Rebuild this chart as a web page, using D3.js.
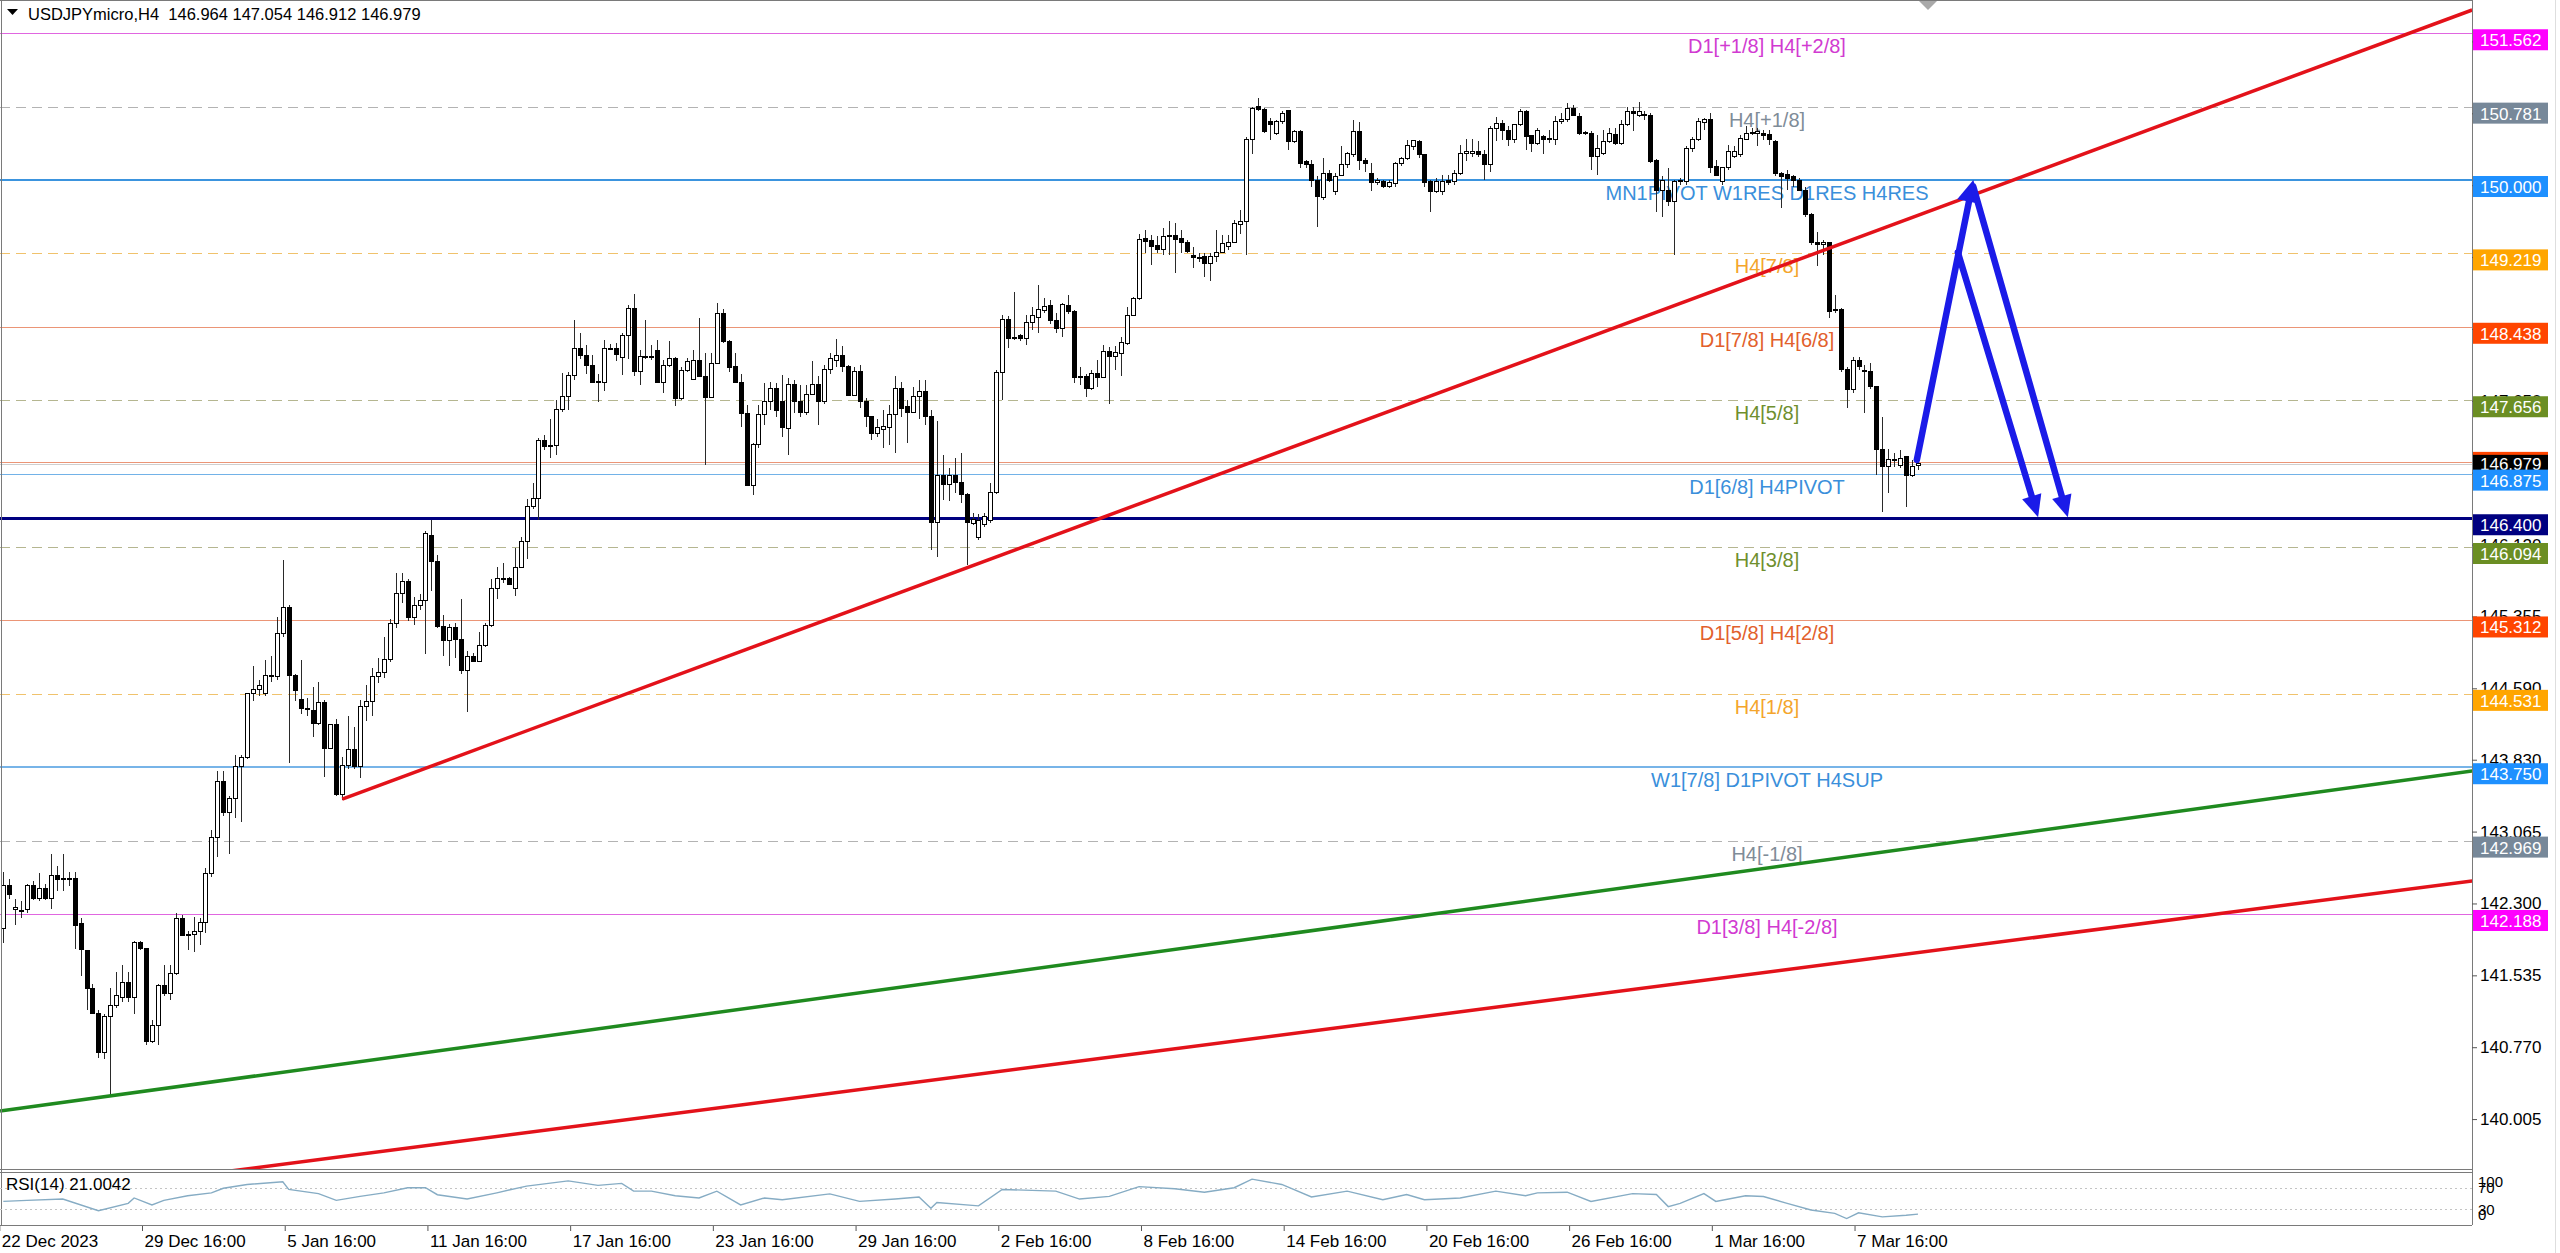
<!DOCTYPE html>
<html><head><meta charset="utf-8">
<script src="https://cdn.jsdelivr.net/npm/d3@7"></script>
<style>
html,body{margin:0;padding:0;background:#fff;}
svg{display:block;font-family:"Liberation Sans",Arial,sans-serif;}
</style></head><body>
<svg id="chart" width="2560" height="1253"></svg>
<script>
// ---------------- DATA ----------------
const symbolTitle = "USDJPYmicro,H4";
const lastBarOHLC = ["146.964", "147.054", "146.912", "146.979"];

// H4 candles [open, high, low, close]
// 22 Dec 2023 -> 12 Jan
const ohlcPart1 = [
[142.03,142.64,141.88,142.49],[142.49,142.56,142.35,142.39],[142.24,142.35,142.07,142.26],[142.22,142.33,142.14,142.23],
[142.24,142.51,142.20,142.49],[142.49,142.54,142.34,142.35],[142.35,142.62,142.33,142.46],[142.46,142.51,142.34,142.35],
[142.35,142.83,142.24,142.60],[142.60,142.70,142.43,142.56],[142.57,142.83,142.43,142.56],[142.56,142.64,142.49,142.57],
[142.57,142.64,141.82,142.07],[142.09,142.14,141.53,141.81],[141.80,141.80,141.17,141.39],[141.39,141.44,141.12,141.13],
[141.13,141.17,140.66,140.71],[140.71,141.12,140.64,141.10],[141.10,141.40,140.26,141.21],[141.21,141.57,141.19,141.32],
[141.30,141.65,141.25,141.46],[141.46,141.57,141.25,141.30],[141.30,141.90,141.12,141.88],[141.88,141.90,141.80,141.82],
[141.82,141.82,140.79,140.83],[140.83,141.06,140.81,141.00],[141.00,141.44,140.79,141.43],[141.43,141.65,141.32,141.34],
[141.34,141.65,141.27,141.55],[141.55,142.20,141.54,142.14],[142.14,142.18,141.95,141.96],[141.96,142.01,141.80,141.97],
[141.97,142.16,141.78,142.00],[142.00,142.14,141.86,142.10],[142.10,142.68,141.99,142.62],[142.62,143.08,142.58,143.00],
[143.00,143.71,142.79,143.60],[143.60,143.71,143.23,143.27],[143.27,143.44,142.83,143.42],[143.42,143.88,143.21,143.76],
[143.76,143.88,143.17,143.85],[143.85,144.53,143.84,144.53],[144.53,144.83,144.45,144.58],[144.58,144.68,144.51,144.62],
[144.53,144.89,144.51,144.73],[144.73,144.93,144.66,144.72],[144.72,145.35,144.68,145.17],[145.17,145.96,145.14,145.45],
[145.45,145.48,143.80,144.73],[144.73,144.74,144.45,144.57],[144.47,144.89,144.32,144.37],[144.36,144.49,144.30,144.37],
[144.35,144.60,144.07,144.22],[144.22,144.66,144.20,144.44],[144.44,144.47,143.65,143.95],[143.95,144.20,143.94,144.20],
[144.20,144.26,143.44,143.46],[143.46,143.86,143.40,143.77],[143.77,144.29,143.73,143.94],[143.94,144.18,143.73,143.76],
[143.76,144.47,143.63,144.40],[144.40,144.62,144.24,144.45],[144.45,144.81,144.30,144.72],[144.72,144.91,144.65,144.76],
[144.76,145.14,144.70,144.90],[144.90,145.33,144.87,145.28],[145.28,145.82,145.23,145.60],[145.60,145.82,145.50,145.73],
[145.73,145.75,145.31,145.34],[145.34,145.56,145.26,145.47],[145.47,145.59,145.42,145.52],[145.52,146.26,144.95,146.24],
[146.22,146.38,145.63,145.94],[145.94,146.01,145.23,145.25],[145.25,145.37,144.93,145.10],[145.10,145.27,144.83,145.24],
[145.24,145.29,144.91,145.11],[145.11,145.54,144.74,144.78],[144.78,144.99,144.34,144.93],[144.93,144.97,144.87,144.88],
[144.88,145.19,144.87,145.05],[145.05,145.28,145.03,145.26],[145.26,145.75,145.24,145.65],[145.65,145.88,145.54,145.76]
];
// 12 Jan -> 19 Jan
const ohlcPart2 = [
[145.76,145.92,145.71,145.76],[145.76,145.77,145.69,145.70],[145.65,146.08,145.57,145.88],[145.88,146.20,145.87,146.15],
[146.15,146.61,145.97,146.52],[146.52,146.77,146.50,146.61],[146.61,147.25,146.38,147.23],[147.23,147.29,147.13,147.16],
[147.16,147.46,147.04,147.17],[147.17,147.66,147.07,147.56],[147.56,147.95,147.53,147.70],[147.70,147.96,147.55,147.92],
[147.92,148.51,147.87,148.21],[148.21,148.37,148.10,148.13],[148.13,148.24,147.94,148.03],[148.03,148.14,147.84,147.85],
[147.86,147.94,147.64,147.84],[147.84,148.30,147.75,148.21],[148.21,148.25,148.19,148.21],[148.21,148.26,148.07,148.14],
[148.11,148.37,147.92,148.34],[148.34,148.67,148.10,148.63],[148.63,148.79,147.91,147.96],[147.96,148.19,147.82,148.12],
[148.12,148.51,148.10,148.12],[148.12,148.24,148.08,148.11],[148.19,148.30,147.84,147.84],[147.84,148.08,147.73,148.03],
[148.03,148.29,148.01,148.10],[148.10,148.12,147.60,147.67],[147.67,148.01,147.66,147.97],[147.97,148.11,147.96,148.07],
[147.88,148.19,147.88,148.08],[148.08,148.53,147.90,147.91]
];
// 22 Jan -> 14 Feb
const ohlcPart3 = [
[147.91,148.16,146.97,147.69],[147.69,148.16,147.68,148.05],[148.05,148.69,148.04,148.58],[148.58,148.63,148.26,148.28],
[148.28,148.30,147.96,148.00],[148.01,148.16,147.85,147.85],[147.85,147.94,147.37,147.52],[147.52,147.61,146.74,146.75],
[146.75,147.20,146.65,147.18],[147.18,147.61,147.15,147.50],[147.50,147.84,147.39,147.64],[147.64,147.85,147.55,147.78],
[147.78,147.84,147.48,147.55],[147.64,147.92,147.27,147.37],[147.36,147.89,147.07,147.82],[147.82,147.87,147.52,147.64],
[147.64,147.82,147.48,147.53],[147.53,147.82,147.50,147.72],[147.72,148.07,147.71,147.82],[147.82,147.91,147.39,147.64],
[147.64,148.03,147.62,147.98],[147.98,148.16,147.94,148.10],[148.08,148.31,148.01,148.13],[148.13,148.23,147.96,148.02],
[148.02,148.03,147.70,147.71],[147.71,148.01,147.70,147.96],[147.96,148.03,147.57,147.64],[147.64,147.68,147.37,147.48],
[147.48,147.48,147.23,147.30],[147.30,147.46,147.27,147.37],[147.34,147.55,147.15,147.38],[147.37,147.61,147.18,147.50],
[147.50,147.91,147.09,147.78],[147.78,147.85,147.48,147.57],[147.59,147.66,147.20,147.53],[147.53,147.80,147.52,147.70],
[147.70,147.87,147.46,147.75],[147.75,147.87,147.39,147.48],[147.48,147.55,146.06,146.35],[146.35,147.43,145.99,146.86],
[146.85,147.07,146.59,146.76],[146.76,146.93,146.58,146.85],[146.85,147.04,146.67,146.78],[146.78,147.09,146.56,146.65],
[146.65,146.67,145.90,146.35],[146.34,146.46,146.33,146.39],[146.20,146.45,146.17,146.38],[146.33,146.46,146.31,146.42],
[146.38,146.78,146.35,146.67],[146.67,147.98,146.66,147.95],[147.95,148.56,147.66,148.52],[148.52,148.55,148.21,148.31],
[148.31,148.81,148.30,148.32],[148.35,148.36,148.29,148.31],[148.31,148.56,148.24,148.48],[148.48,148.65,148.40,148.56],
[148.54,148.88,148.37,148.62],[148.61,148.74,148.58,148.65],[148.66,148.72,148.47,148.50],[148.50,148.58,148.37,148.42],
[148.42,148.69,148.33,148.67],[148.66,148.78,148.57,148.60],[148.60,148.62,147.84,147.90],[147.90,148.01,147.82,147.91],
[147.91,147.93,147.69,147.78],[147.78,147.98,147.77,147.94],[147.94,148.08,147.80,147.90],[147.90,148.24,147.89,148.17],
[148.17,148.22,147.62,148.12],[148.12,148.23,147.98,148.16],[148.15,148.33,147.91,148.27],[148.26,148.65,148.24,148.56],
[148.56,148.76,148.55,148.74],[148.74,149.43,148.72,149.37],[149.38,149.47,149.22,149.35],[149.36,149.41,149.10,149.29],
[149.30,149.40,149.22,149.26],[149.26,149.49,149.20,149.40],[149.40,149.56,149.20,149.41],[149.41,149.54,149.01,149.37],
[149.38,149.47,149.22,149.33],[149.33,149.36,149.22,149.24],[149.20,149.29,149.06,149.17],[149.17,149.22,149.13,149.18],
[149.19,149.22,148.97,149.11],[149.11,149.22,148.92,149.19],[149.19,149.47,149.13,149.23],[149.23,149.41,149.22,149.32],
[149.29,149.41,149.26,149.34],[149.34,149.57,149.33,149.54],[149.53,149.68,149.43,149.56],[149.56,150.46,149.20,150.43],
[150.43,150.78,150.28,150.76],[150.78,150.87,150.73,150.75],[150.75,150.77,150.50,150.52],[150.62,150.66,150.43,150.59],
[150.50,150.64,150.48,150.62],[150.62,150.73,150.60,150.71],[150.74,150.75,150.32,150.41],[150.41,150.53,150.39,150.52],
[150.52,150.53,150.13,150.18]
];
// 14 Feb -> 11 Mar
const ohlcPart4 = [
[150.20,150.21,150.13,150.16],[150.16,150.21,149.93,150.00],[150.00,150.04,149.50,149.82],[149.81,150.23,149.79,150.07],
[150.07,150.11,149.98,150.00],[149.88,150.07,149.84,150.04],[150.05,150.36,150.04,150.16],[150.16,150.30,150.13,150.28],
[150.27,150.64,150.25,150.52],[150.52,150.62,150.11,150.21],[150.21,150.23,150.09,150.18],[150.07,150.18,149.88,149.97],
[149.97,150.02,149.95,150.00],[149.98,150.00,149.91,149.93],[149.93,150.00,149.91,149.97],[149.96,150.19,149.93,150.18],
[150.18,150.25,150.15,150.23],[150.23,150.43,150.21,150.37],[150.36,150.43,150.32,150.42],[150.41,150.43,150.23,150.27],
[150.27,150.28,149.93,149.97],[149.98,150.00,149.66,149.88],[149.88,150.02,149.86,149.98],[149.88,150.05,149.84,149.98],
[150.00,150.05,149.95,149.97],[149.98,150.11,149.95,150.07],[150.07,150.37,150.05,150.28],[150.28,150.44,150.20,150.30],
[150.28,150.44,150.25,150.30],[150.30,150.41,150.25,150.27],[150.27,150.32,150.00,150.16],[150.16,150.57,150.09,150.55],
[150.55,150.67,150.41,150.60],[150.60,150.64,150.43,150.53],[150.53,150.57,150.36,150.43],[150.43,150.60,150.39,150.59],
[150.59,150.76,150.57,150.73],[150.73,150.75,150.32,150.46],[150.47,150.48,150.30,150.39],[150.39,150.55,150.37,150.53],
[150.46,150.48,150.28,150.43],[150.43,150.53,150.39,150.44],[150.43,150.68,150.37,150.62],[150.62,150.71,150.60,150.64],
[150.64,150.82,150.62,150.76],[150.76,150.80,150.68,150.69],[150.68,150.71,150.48,150.50],[150.51,150.52,150.48,150.49],
[150.50,150.52,150.11,150.25],[150.25,150.48,150.05,150.34],[150.28,150.53,150.27,150.41],[150.41,150.55,150.39,150.50],
[150.48,150.55,150.37,150.39],[150.39,150.64,150.37,150.59],[150.59,150.78,150.57,150.73],[150.73,150.78,150.52,150.71],
[150.69,150.83,150.67,150.73],[150.69,150.73,150.64,150.70],[150.69,150.71,150.18,150.20],[150.21,150.22,149.66,149.89],
[149.89,150.04,149.61,150.00],[149.89,150.13,149.72,149.77],[149.77,150.00,149.20,149.98],[149.98,150.02,149.95,150.00],
[149.98,150.36,149.95,150.34],[150.34,150.46,150.30,150.43],[150.43,150.66,150.41,150.62],[150.61,150.66,150.53,150.64],
[150.64,150.71,150.07,150.13],[150.14,150.21,150.04,150.05],[149.98,150.14,149.95,150.13],[150.13,150.37,150.11,150.30],
[150.25,150.36,150.23,150.30],[150.27,150.48,150.25,150.44],[150.43,150.57,150.43,150.50],[150.51,150.55,150.48,150.49],
[150.49,150.55,150.36,150.52],[150.49,150.53,150.43,150.47],[150.48,150.53,150.37,150.43],[150.41,150.43,150.04,150.07],
[150.07,150.09,149.70,150.04],[150.06,150.11,149.89,150.02],[150.04,150.05,149.93,150.00],[150.00,150.02,149.88,149.89],
[149.89,149.93,149.61,149.63],[149.63,149.65,149.31,149.34],[149.34,149.45,149.08,149.31],[149.31,149.36,149.20,149.33],
[149.33,149.34,148.53,148.60],[148.61,148.78,148.58,148.62],[148.62,148.64,147.96,147.98],[147.98,148.01,147.57,147.77],
[147.77,148.12,147.73,148.08],[148.08,148.12,147.98,148.01],[147.97,148.03,147.52,147.96],[147.96,148.05,147.78,147.80],
[147.80,147.80,146.86,147.13],[147.13,147.48,146.47,146.95],[146.95,147.14,146.67,147.02],[147.02,147.09,146.95,147.03],
[146.96,147.13,146.93,147.04],[147.06,147.06,146.52,146.86],[146.86,147.02,146.84,146.95],[146.964,147.054,146.912,146.979]
];

// right price scale ticks
const priceTickValues = [140.005,140.770,141.535,142.300,143.065,143.830,144.590,145.355,146.120,146.885,147.650,148.415,149.180,149.945,150.710,151.475];
const priceTickLabels = ["140.005","140.770","141.535","142.300","143.065","143.830","144.590","145.355","146.120","146.885","147.650","148.415","149.180","149.945","150.710","151.475"];

// time axis
const timeLabelBars = [0,24,48,72,96,120,144,168,192,216,240,264,288,312];
const timeLabels = ["22 Dec 2023","29 Dec 16:00","5 Jan 16:00","11 Jan 16:00","17 Jan 16:00","23 Jan 16:00","29 Jan 16:00","2 Feb 16:00","8 Feb 16:00","14 Feb 16:00","20 Feb 16:00","26 Feb 16:00","1 Mar 16:00","7 Mar 16:00"];

// horizontal levels
const levelPrices = [151.562,150.781,150.000,149.219,148.438,147.656,147.000,146.875,146.400,146.094,145.312,144.531,143.750,142.969,142.188];
const levelNames  = ["D1[+1/8] H4[+2/8]","H4[+1/8]","MN1PIVOT W1RES D1RES H4RES","H4[7/8]","D1[7/8] H4[6/8]","H4[5/8]","","D1[6/8] H4PIVOT","","H4[3/8]","D1[5/8] H4[2/8]","H4[1/8]","W1[7/8] D1PIVOT H4SUP","H4[-1/8]","D1[3/8] H4[-2/8]"];
const levelKinds  = ["magenta","slate","blueMain","orange","orangered","olive","orangered","blueThin","navy","olive","orangered","orange","blue","slate","magenta"];
const currentPrice = 146.979;

// RSI(14) read at bars
const rsiName = "RSI(14) 21.0042";
const rsiBars = [0,4,10,16,21,22,25,27,31,35,37,41,47,48,53,56,60,64,68,71,73,78,83,88,95,100,104,106,109,113,117,120,124,128,131,139,144,150,154,156,157,164,168,177,181,186,191,197,202,207,210,215,220,226,232,236,239,245,251,256,258,263,267,274,278,280,282,286,288,293,296,300,304,308,310,312,316,320,322];
const rsiValues = [44.6,46.5,49,27.5,41,51,38,46.5,55,60.5,69,76,81,67,59,46.5,54,60.5,70,70,57,49,60.5,73,82.7,74.4,78,63.6,63.6,55,51,63.6,38,51,47.8,58.6,44.6,49,52.8,32,42.7,36.3,66.8,63.6,49,54,72,68,61.7,70,85.8,76,52.8,63.6,47.8,57.3,47.8,51,63.6,55,60.5,61.7,44.6,59,57.3,35,41,59,44.6,55,53.7,41,28.7,22.4,12.9,23.6,16,19,21];
const rsiLevels = [70, 30];
const rsiAxisLabels = ["100","70","30","0"];

// drawn objects [bar, price]
const trendRedUpper = [[57,143.41],[415.2,151.81]];
const trendGreen    = [[-0.55,140.09],[415.2,143.71]];
const trendRedLower = [[0,139.14],[415.2,142.54]];
const arrowUp    = [[321.8,147.02],[331.3,150.00]];
const arrowDownA = [[328.7,149.23],[342.2,146.41]];
const arrowDownB = [[331.3,149.93],[347.2,146.41]];

// ---------------- STYLE / LAYOUT ----------------
const kindStyle = {
  magenta:   {line:"#e066e0", text:"#d13ad1", box:"#ff00ff", dash:null,   w:1},
  slate:     {line:"#b3b3b3", text:"#7f8c98", box:"#778899", dash:"10,6", w:1},
  blueMain:  {line:"#3b94de", text:"#3a8fdb", box:"#1e90ff", dash:null,   w:2},
  blue:      {line:"#4a9be0", text:"#3a8fdb", box:"#1e90ff", dash:null,   w:1.3},
  blueThin:  {line:"#72b2e8", text:"#3a8fdb", box:"#1e90ff", dash:null,   w:1},
  orange:    {line:"#f0c26c", text:"#f4a52c", box:"#ffa500", dash:"10,6", w:1},
  orangered: {line:"#eb9576", text:"#e2602c", box:"#ff4500", dash:null,   w:1},
  olive:     {line:"#b5b690", text:"#6f8f2e", box:"#6b8e23", dash:"10,6", w:1},
  navy:      {line:"#000080", text:"#000080", box:"#000080", dash:null,   w:3}
};
const PLOT_R = 2472, MAIN_B = 1170, RSI_T = 1172, RSI_B = 1225;
const LABEL_X = 1767;

const ohlc = [...ohlcPart1, ...ohlcPart2, ...ohlcPart3, ...ohlcPart4];
const svg = d3.select("#chart");
svg.append("rect").attr("width",2560).attr("height",1253).attr("fill","#fff");

const x = d3.scaleLinear().domain([0, ohlc.length - 1]).range([3.3, 1918]);
const y = d3.scaleLinear().domain([139.463, 151.916]).range([MAIN_B, 0]);
const yR = d3.scaleLinear().domain([0, 100]).range([1225.5, 1171.5]);

const defs = svg.append("defs");
defs.append("clipPath").attr("id","mainClip").append("rect").attr("x",0).attr("y",0).attr("width",PLOT_R).attr("height",MAIN_B);
defs.append("clipPath").attr("id","rsiClip").append("rect").attr("x",0).attr("y",RSI_T).attr("width",PLOT_R).attr("height",RSI_B-RSI_T);

const main = svg.append("g").attr("clip-path","url(#mainClip)");
const crisp = v => Math.round(v) + 0.5;

// level lines
levelPrices.forEach((p,i) => {
  const st = kindStyle[levelKinds[i]];
  const yy = st.w % 2 === 1 ? crisp(y(p)) : Math.round(y(p));
  main.append("line").attr("x1",0).attr("x2",PLOT_R).attr("y1",yy).attr("y2",yy)
    .attr("stroke",st.line).attr("stroke-width",st.w)
    .attr("stroke-dasharray",st.dash);
});
// bid line
main.append("line").attr("x1",0).attr("x2",PLOT_R).attr("y1",crisp(y(currentPrice))).attr("y2",crisp(y(currentPrice)))
  .attr("stroke","#cfcfcf").attr("stroke-width",1);

// level texts
levelNames.forEach((t,i) => {
  if (!t) return;
  const st = kindStyle[levelKinds[i]];
  main.append("text").attr("x",LABEL_X).attr("y",y(levelPrices[i]) + 20)
    .attr("text-anchor","middle").attr("font-size",20).attr("fill",st.text).text(t);
});

// candles
const gC = main.append("g").attr("shape-rendering","crispEdges");
const cg = gC.selectAll("g.c").data(ohlc).join("g").attr("class","c");
cg.append("line")
  .attr("x1",(d,i)=>Math.round(x(i))+0.5).attr("x2",(d,i)=>Math.round(x(i))+0.5)
  .attr("y1",d=>y(d[1])).attr("y2",d=>y(d[2]))
  .attr("stroke","#2a2a2a").attr("stroke-width",1);
cg.append("rect")
  .attr("x",(d,i)=>Math.round(x(i))-1.5)
  .attr("y",d=>y(Math.max(d[0],d[3])))
  .attr("width",4)
  .attr("height",d=>Math.max(1, Math.abs(y(d[0])-y(d[3]))))
  .attr("fill",d=> d[3] > d[0] ? "#ffffff" : "#000000")
  .attr("stroke","#000").attr("stroke-width",1);

// trend lines
const lineGen = d3.line().x(d=>x(d[0])).y(d=>y(d[1]));
main.append("path").attr("d",lineGen(trendGreen)).attr("stroke","#1f8a1f").attr("stroke-width",3.5).attr("fill","none");
main.append("path").attr("d",lineGen(trendRedLower)).attr("stroke","#e3121a").attr("stroke-width",3.5).attr("fill","none");
main.append("path").attr("d",lineGen(trendRedUpper)).attr("stroke","#e3121a").attr("stroke-width",3.5).attr("fill","none");

// arrows
function drawArrow(seg, headW, headL){
  const x0 = x(seg[0][0]), y0 = y(seg[0][1]), x1 = x(seg[1][0]), y1 = y(seg[1][1]);
  const dx = x1-x0, dy = y1-y0, len = Math.hypot(dx,dy);
  const ux = dx/len, uy = dy/len, nx = -uy, ny = ux;
  const bx = x1 - ux*headL, by = y1 - uy*headL;
  main.append("line").attr("x1",x0).attr("y1",y0).attr("x2",bx+ux*3).attr("y2",by+uy*3)
    .attr("stroke","#1b1be8").attr("stroke-width",6.5).attr("stroke-linecap","round");
  main.append("path").attr("d",`M${x1},${y1}L${bx+nx*headW},${by+ny*headW}L${bx-nx*headW},${by-ny*headW}Z`)
    .attr("fill","#1b1be8");
}
drawArrow(arrowUp, 12, 22);
drawArrow(arrowDownA, 10, 22);
drawArrow(arrowDownB, 10, 22);

// top gray marker
svg.append("path").attr("d","M1918,0L1938,0L1928,10Z").attr("fill","#a9a9a9");

// frames
const frame = svg.append("g").attr("fill","none").attr("stroke","#7a7a7a").attr("stroke-width",1).attr("shape-rendering","crispEdges");
frame.append("line").attr("x1",1.5).attr("x2",1.5).attr("y1",0).attr("y2",RSI_B);
frame.append("line").attr("x1",0).attr("x2",PLOT_R).attr("y1",0.5).attr("y2",0.5);
frame.append("line").attr("x1",PLOT_R+0.5).attr("x2",PLOT_R+0.5).attr("y1",0).attr("y2",RSI_B);
frame.append("line").attr("x1",0).attr("x2",PLOT_R).attr("y1",MAIN_B-0.5).attr("y2",MAIN_B-0.5);
frame.append("line").attr("x1",0).attr("x2",PLOT_R).attr("y1",RSI_T+0.5).attr("y2",RSI_T+0.5);
frame.append("line").attr("x1",0).attr("x2",PLOT_R).attr("y1",RSI_B+0.5).attr("y2",RSI_B+0.5);
svg.append("line").attr("x1",2555.5).attr("x2",2555.5).attr("y1",0).attr("y2",1253).attr("stroke","#dedede");

// right price axis
const yAxis = d3.axisRight(y).tickValues(priceTickValues).tickFormat((d,i)=>priceTickLabels[i]).tickSize(5).tickPadding(3);
const gY = svg.append("g").attr("transform",`translate(${PLOT_R},0)`).call(yAxis);
gY.select(".domain").remove();
gY.selectAll("line").attr("stroke","#555");
gY.selectAll("text").attr("font-size",17).attr("fill","#000").attr("font-family","Liberation Sans, Arial, sans-serif");

// level boxes on price axis
const boxG = svg.append("g");
function priceBox(p, color, top, baseOff){
  const yy = y(p);
  boxG.append("rect").attr("x",PLOT_R+1).attr("y",yy+top).attr("width",75).attr("height",21).attr("fill",color);
  boxG.append("text").attr("x",PLOT_R+8).attr("y",yy+baseOff).attr("font-size",17).attr("fill","#fff").text(p.toFixed(3));
}
levelPrices.forEach((p,i) => {
  const st = kindStyle[levelKinds[i]];
  if (p === 147.000) { priceBox(p, st.box, -10, 11); priceBox(currentPrice, "#000000", -9, 6); return; }
  priceBox(p, st.box, -4, 13);
});

// RSI panel
const rsiG = svg.append("g").attr("clip-path","url(#rsiClip)");
rsiLevels.forEach(v => {
  rsiG.append("line").attr("x1",0).attr("x2",PLOT_R).attr("y1",crisp(yR(v))).attr("y2",crisp(yR(v)))
    .attr("stroke","#c4c4c4").attr("stroke-dasharray","2,3");
});
const rsiLine = d3.line().x((d,i)=>x(rsiBars[i])).y(d=>yR(d));
rsiG.append("path").attr("d",rsiLine(rsiValues)).attr("fill","none").attr("stroke","#86acc4").attr("stroke-width",1.4);
svg.append("text").attr("x",6).attr("y",1190).attr("font-size",17).attr("fill","#000").text(rsiName);
const rsiLabelY = [1187, 1193, 1215, 1220];
rsiAxisLabels.forEach((t,i)=>{
  svg.append("text").attr("x",PLOT_R+6).attr("y",rsiLabelY[i]).attr("font-size",15).attr("fill","#000").text(t);
});

// time axis
const xAxis = d3.axisBottom(x).tickValues(timeLabelBars).tickFormat((d,i)=>timeLabels[i]).tickSize(5);
const gX = svg.append("g").attr("transform",`translate(-4,${RSI_B+1})`).call(xAxis);
gX.select(".domain").remove();
gX.selectAll("line").attr("stroke","#555");
gX.selectAll("text").attr("text-anchor","start").attr("x",2).attr("y",6).attr("dy","0.9em")
  .attr("font-size",17).attr("fill","#000").attr("font-family","Liberation Sans, Arial, sans-serif");

// title
svg.append("path").attr("d","M7,9L18,9L12.5,15Z").attr("fill","#000");
svg.append("text").attr("x",28).attr("y",20).attr("font-size",16.5).attr("fill","#000")
  .style("white-space","pre").text(symbolTitle + "  " + lastBarOHLC.join(" "));
</script>
</body></html>
